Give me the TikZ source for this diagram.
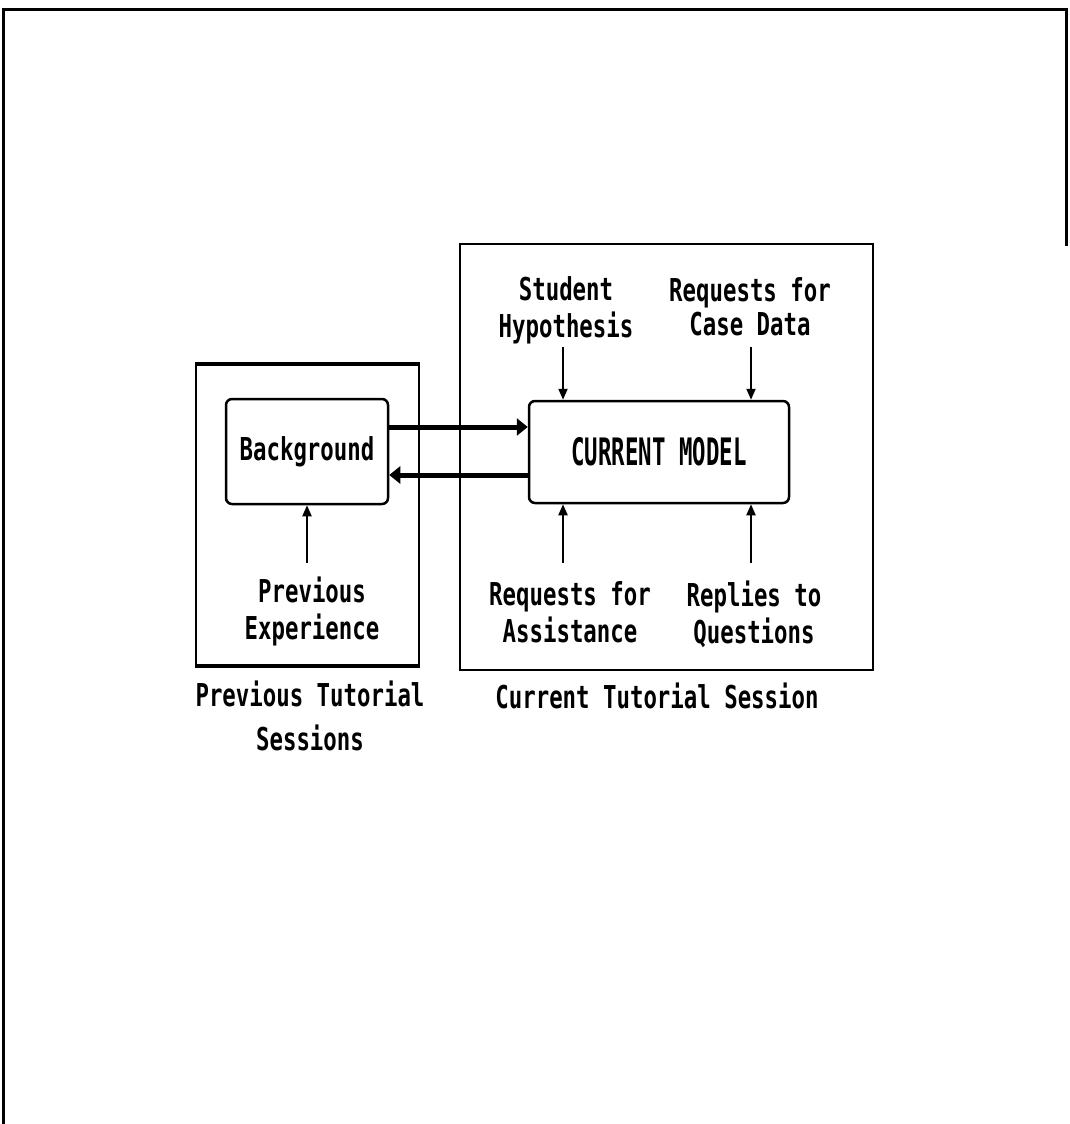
\documentclass[tikz,border=0pt]{standalone}
\usepackage{fontspec}
\newfontfamily\dfont{DejaVu Sans Mono Bold}[FakeStretch=0.71]
\usetikzlibrary{arrows.meta}
\tikzset{
  lbl/.style={font=\dfont\fontsize{31.5}{34}\selectfont, align=center, inner sep=0pt},
  grpbox/.style={draw, line width=2pt, inner sep=0pt},
  rbox/.style={draw, line width=2.5pt, rounded corners=6pt, inner sep=0pt, font=\dfont\fontsize{31.5}{34}\selectfont},
  arr/.style={line width=2pt, -{Triangle[width=9pt,length=11pt]}},
  bigarr/.style={line width=5pt, -{Triangle[width=17pt,length=11pt]}},
  framel/.style={line width=3pt}
}
\begin{document}
\begin{tikzpicture}[x=1pt,y=-1pt]
\useasboundingbox (0,0) rectangle (1069,1124);
% outer frame
\draw[framel] (3,1124) -- (3,10) -- (1066,10) -- (1066,246);
% group boxes
\node[grpbox, minimum width=223pt, minimum height=300pt] (prev) at (307.5,515) {};
\draw[line width=4pt] (prev.north west) -- (prev.north east);
\draw[line width=4pt] (prev.south west) -- (prev.south east);
\node[grpbox, minimum width=413pt, minimum height=426pt] (curr) at (666.5,457) {};
% inner boxes
\node[rbox, minimum width=162pt, minimum height=105pt] (bg) at (307,451.5) {Background};
\node[rbox, minimum width=260pt, minimum height=102pt] (cm) at (659,452) {\scalebox{1}[1.2]{CURRENT MODEL}};
% labels
\node[lbl] (pe) at (312,613) {\strut Previous\\\strut Experience};
\node[lbl] (sh) at (566,312) {\strut Student\\\strut Hypothesis};
\node[lbl] (rc) at (750,312) {\strut Requests for\\\strut Case Data};
\node[lbl] (ra) at (570,617) {\strut Requests for\\\strut Assistance};
\node[lbl] (rq) at (754,617) {\strut Replies to\\\strut Questions};
\node[lbl] (pts) at (310,720.5) {\strut Previous Tutorial\\[7pt]\strut Sessions};
\node[lbl] (cts) at (657,701) {\strut Current Tutorial Session};
% free ends
\coordinate (pe0) at (307,563);
\coordinate (sh0) at (563,347);
\coordinate (rc0) at (751,347);
\coordinate (ra0) at (563,563);
\coordinate (rq0) at (751,563);
% thin arrows
\draw[arr] (pe0) -- (pe0 |- bg.south);
\draw[arr] (sh0) -- (sh0 |- cm.north);
\draw[arr] (rc0) -- (rc0 |- cm.north);
\draw[arr] (ra0) -- (ra0 |- cm.south);
\draw[arr] (rq0) -- (rq0 |- cm.south);
% thick arrows
\draw[bigarr] ([yshift=24.5pt]bg.east) -- ([yshift=24.5pt]bg.east -| cm.west);
\draw[bigarr] ([yshift=-23.5pt]bg.east -| cm.west) -- ([yshift=-23.5pt]bg.east);
\end{tikzpicture}
\end{document}
